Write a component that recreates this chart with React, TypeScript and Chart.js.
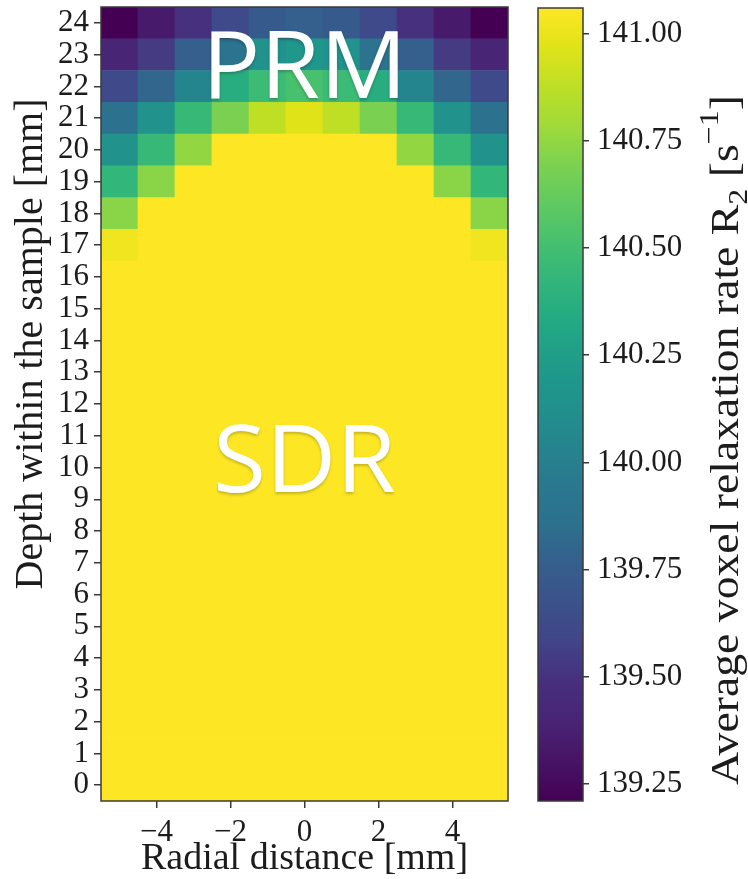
import React, { useEffect, useRef } from "react";
import { Chart, registerables } from "chart.js";

Chart.register(...registerables);

// Grid coordinates
const radialMm = [-5, -4, -3, -2, -1, 0, 1, 2, 3, 4, 5];
const depthMm = [0, 1, 2, 3, 4, 5, 6, 7, 8, 9, 10, 11, 12, 13, 14, 15, 16, 17, 18, 19, 20, 21, 22, 23, 24];

// Average voxel R2 [1/s], one row per depth (0 mm first, 24 mm last)
const r2Rows = [
  [141.06, 141.06, 141.06, 141.06, 141.06, 141.06, 141.06, 141.06, 141.06, 141.06, 141.06],
  [141.06, 141.06, 141.06, 141.06, 141.06, 141.06, 141.06, 141.06, 141.06, 141.06, 141.06],
  [141.06, 141.06, 141.06, 141.06, 141.06, 141.06, 141.06, 141.06, 141.06, 141.06, 141.06],
  [141.06, 141.06, 141.06, 141.06, 141.06, 141.06, 141.06, 141.06, 141.06, 141.06, 141.06],
  [141.06, 141.06, 141.06, 141.06, 141.06, 141.06, 141.06, 141.06, 141.06, 141.06, 141.06],
  [141.06, 141.06, 141.06, 141.06, 141.06, 141.06, 141.06, 141.06, 141.06, 141.06, 141.06],
  [141.06, 141.06, 141.06, 141.06, 141.06, 141.06, 141.06, 141.06, 141.06, 141.06, 141.06],
  [141.06, 141.06, 141.06, 141.06, 141.06, 141.06, 141.06, 141.06, 141.06, 141.06, 141.06],
  [141.06, 141.06, 141.06, 141.06, 141.06, 141.06, 141.06, 141.06, 141.06, 141.06, 141.06],
  [141.06, 141.06, 141.06, 141.06, 141.06, 141.06, 141.06, 141.06, 141.06, 141.06, 141.06],
  [141.06, 141.06, 141.06, 141.06, 141.06, 141.06, 141.06, 141.06, 141.06, 141.06, 141.06],
  [141.06, 141.06, 141.06, 141.06, 141.06, 141.06, 141.06, 141.06, 141.06, 141.06, 141.06],
  [141.06, 141.06, 141.06, 141.06, 141.06, 141.06, 141.06, 141.06, 141.06, 141.06, 141.06],
  [141.06, 141.06, 141.06, 141.06, 141.06, 141.06, 141.06, 141.06, 141.06, 141.06, 141.06],
  [141.06, 141.06, 141.06, 141.06, 141.06, 141.06, 141.06, 141.06, 141.06, 141.06, 141.06],
  [141.06, 141.06, 141.06, 141.06, 141.06, 141.06, 141.06, 141.06, 141.06, 141.06, 141.06],
  [141.06, 141.06, 141.06, 141.06, 141.06, 141.06, 141.06, 141.06, 141.06, 141.06, 141.06],
  [141.02, 141.06, 141.06, 141.06, 141.06, 141.06, 141.06, 141.06, 141.06, 141.06, 141.02],
  [140.73, 141.06, 141.06, 141.06, 141.06, 141.06, 141.06, 141.06, 141.06, 141.06, 140.73],
  [140.43, 140.73, 141.06, 141.06, 141.06, 141.06, 141.06, 141.06, 141.06, 140.73, 140.43],
  [140.14, 140.45, 140.75, 141.06, 141.06, 141.06, 141.06, 141.06, 140.75, 140.45, 140.14],
  [139.86, 140.14, 140.45, 140.69, 140.88, 140.97, 140.88, 140.69, 140.45, 140.14, 139.86],
  [139.62, 139.80, 140.04, 140.36, 140.47, 140.52, 140.47, 140.36, 140.04, 139.80, 139.62],
  [139.40, 139.54, 139.77, 139.89, 140.14, 140.19, 140.14, 139.89, 139.77, 139.54, 139.40],
  [139.21, 139.34, 139.49, 139.62, 139.73, 139.77, 139.73, 139.62, 139.49, 139.34, 139.21],
];

// Axis ticks
const radialTicks = [-4, -2, 0, 2, 4];
const depthTicks = depthMm;
const colorbarTicks = [139.25, 139.5, 139.75, 140.0, 140.25, 140.5, 140.75, 141.0];
const colorMin = 139.21;
const colorMax = 141.06;

// Region annotations (x, y = baseline position in data units)
const regionLabels = [
  { text: "PRM", x: 0, y: 21.63 },
  { text: "SDR", x: 0, y: 9.22 },
];

// viridis colormap stops
const VIRIDIS = [
  "#440154", "#471365", "#482475", "#472f7d", "#414487", "#3b528b", "#355f8d",
  "#2c718e", "#2a788e", "#25858e", "#21918c", "#1e9b8a", "#22a884", "#2fb47c",
  "#44bf70", "#5ec962", "#7ad151", "#9fda3a", "#bddf26", "#dfe318", "#fde725",
];
const VIRIDIS_POS = [0, 0.05, 0.1, 0.15, 0.2, 0.25, 0.3, 0.35, 0.4, 0.45, 0.5, 0.55, 0.6, 0.65, 0.7, 0.75, 0.8, 0.85, 0.9, 0.95, 1.0];

function hexToRgb(h: string) {
  const n = parseInt(h.slice(1), 16);
  return [(n >> 16) & 255, (n >> 8) & 255, n & 255];
}

function viridis(t: number) {
  const c = Math.min(1, Math.max(0, t));
  let i = 0;
  while (i < VIRIDIS_POS.length - 2 && c > VIRIDIS_POS[i + 1]) i++;
  const f = (c - VIRIDIS_POS[i]) / (VIRIDIS_POS[i + 1] - VIRIDIS_POS[i]);
  const a = hexToRgb(VIRIDIS[i]);
  const b = hexToRgb(VIRIDIS[i + 1]);
  const m = a.map((v, k) => Math.round(v + (b[k] - v) * f));
  return `rgb(${m[0]},${m[1]},${m[2]})`;
}

const colorOf = (v: number) => viridis((v - colorMin) / (colorMax - colorMin));

const SERIF = "'Liberation Serif', 'DejaVu Serif', serif";
const INK = "#1c1c1c";
const AXIS_LINE = "#3a3a3a";

const fmtRadial = (v: number) => (v < 0 ? "\u2212" + Math.abs(v) : String(v));

// Keep the plotting area at a fixed place: no extra room for edge labels
const fixSize = (dim: "width" | "height", size: number) => (s: any) => {
  s[dim] = size;
  s.paddingTop = 0;
  s.paddingBottom = 0;
  s.paddingLeft = 0;
  s.paddingRight = 0;
};

// Frame around the plotting area
const framePlugin = {
  id: "frame",
  afterDatasetsDraw(chart: any) {
    const { ctx, chartArea: a } = chart;
    ctx.save();
    ctx.strokeStyle = AXIS_LINE;
    ctx.lineWidth = 1.5;
    ctx.strokeRect(a.left, a.top, a.right - a.left, a.bottom - a.top);
    ctx.restore();
  },
};

// Heatmap extras: region labels and vertical axis title
const heatmapTextPlugin = {
  id: "heatmapText",
  afterDraw(chart: any) {
    const { ctx, scales } = chart;
    ctx.save();
    ctx.fillStyle = "#ffffff";
    ctx.font = "94px 'Open Sans', 'Noto Sans', sans-serif";
    ctx.textAlign = "center";
    ctx.textBaseline = "alphabetic";
    ctx.shadowColor = "rgba(0,0,0,0.22)";
    ctx.shadowBlur = 3;
    ctx.shadowOffsetY = 1.5;
    for (const l of regionLabels) {
      const px = scales.x.getPixelForValue(l.x);
      const py = scales.y.getPixelForValue(l.y);
      ctx.save();
      ctx.translate(px, py);
      ctx.scale(1.03, 1);
      ctx.fillText(l.text, 0, 0);
      ctx.restore();
    }
    ctx.shadowColor = "transparent";
    ctx.fillStyle = INK;
    ctx.font = `40px ${SERIF}`;
    ctx.translate(42, 344);
    ctx.rotate(-Math.PI / 2);
    ctx.fillText("Depth within the sample [mm]", 0, 0);
    ctx.restore();
  },
};

// Colorbar gradient and its label
const colorbarPlugin = {
  id: "colorbar",
  beforeDatasetsDraw(chart: any) {
    const { ctx, chartArea: a, scales } = chart;
    const y0 = scales.y.getPixelForValue(colorMin);
    const y1 = scales.y.getPixelForValue(colorMax);
    const g = ctx.createLinearGradient(0, y0, 0, y1);
    VIRIDIS.forEach((c, i) => g.addColorStop(VIRIDIS_POS[i], c));
    ctx.save();
    ctx.fillStyle = g;
    ctx.fillRect(a.left, y1, a.right - a.left, y0 - y1);
    ctx.restore();
  },
  afterDraw(chart: any) {
    const { ctx } = chart;
    const size = 40;
    const parts = [
      { t: "Average voxel relaxation rate R", s: 1, dy: 0 },
      { t: "2", s: 0.7, dy: 0.22 },
      { t: " [s", s: 1, dy: 0 },
      { t: "\u22121", s: 0.7, dy: -0.5 },
      { t: "]", s: 1, dy: 0 },
    ];
    ctx.save();
    let total = 0;
    for (const p of parts) {
      ctx.font = `${size * p.s}px ${SERIF}`;
      total += ctx.measureText(p.t).width;
    }
    const span = 690;
    ctx.translate(208, 785);
    ctx.rotate(-Math.PI / 2);
    ctx.scale(span / total, 1);
    ctx.fillStyle = INK;
    ctx.textAlign = "left";
    ctx.textBaseline = "alphabetic";
    let x = 0;
    for (const p of parts) {
      ctx.font = `${size * p.s}px ${SERIF}`;
      ctx.fillText(p.t, x, p.dy * size);
      x += ctx.measureText(p.t).width;
    }
    ctx.restore();
  },
};

export default function App() {
  const mainRef = useRef<HTMLCanvasElement | null>(null);
  const barRef = useRef<HTMLCanvasElement | null>(null);

  useEffect(() => {
    const tickFont = { family: SERIF, size: 31 };
    const tickGrid = {
      drawOnChartArea: false,
      drawTicks: true,
      tickLength: 7,
      color: AXIS_LINE,
      lineWidth: 1.5,
      offset: false,
    };

    const main = new Chart(mainRef.current as HTMLCanvasElement, {
      type: "bar",
      data: {
        datasets: depthMm.map((d, i) => ({
          label: `${d} mm`,
          data: radialMm.map((x) => ({ x, y: [d - 0.5, d + 0.5] })),
          backgroundColor: r2Rows[i].map(colorOf),
          borderWidth: 0,
          grouped: false,
          barPercentage: 1,
          categoryPercentage: 1,
        })),
      } as any,
      options: {
        animation: false,
        responsive: false,
        maintainAspectRatio: false,
        layout: { padding: { left: 0, top: 7, right: 22, bottom: 0 } },
        plugins: { legend: { display: false }, tooltip: { enabled: false } },
        scales: {
          x: {
            type: "linear",
            min: -5.5,
            max: 5.5,
            offset: false,
            afterBuildTicks: (s: any) => {
              s.ticks = radialTicks.map((v) => ({ value: v }));
            },
            afterFit: fixSize("height", 78),
            grid: tickGrid,
            border: { display: false },
            ticks: {
              font: tickFont,
              color: INK,
              padding: 6,
              maxRotation: 0,
              autoSkip: false,
              callback: (v: any) => fmtRadial(Number(v)),
            },
            title: {
              display: true,
              text: "Radial distance [mm]",
              color: INK,
              font: { family: SERIF, size: 38, lineHeight: 1 },
              padding: { top: 0, bottom: 1 },
            },
          },
          y: {
            type: "linear",
            min: -0.5,
            max: 24.5,
            afterBuildTicks: (s: any) => {
              s.ticks = depthTicks.map((v) => ({ value: v }));
            },
            afterFit: fixSize("width", 101),
            grid: tickGrid,
            border: { display: false },
            ticks: {
              font: tickFont,
              color: INK,
              padding: 5,
              autoSkip: false,
              callback: (v: any) => String(v),
            },
          },
        },
      } as any,
      plugins: [framePlugin, heatmapTextPlugin],
    });

    const bar = new Chart(barRef.current as HTMLCanvasElement, {
      type: "line",
      data: { datasets: [] },
      options: {
        animation: false,
        responsive: false,
        maintainAspectRatio: false,
        layout: { padding: { left: 8, top: 8, right: 0, bottom: 78 } },
        plugins: { legend: { display: false }, tooltip: { enabled: false } },
        scales: {
          x: { type: "linear", display: false, min: 0, max: 1 },
          y: {
            type: "linear",
            position: "right",
            min: colorMin,
            max: colorMax,
            afterBuildTicks: (s: any) => {
              s.ticks = colorbarTicks.map((v) => ({ value: v }));
            },
            afterFit: fixSize("width", 165),
            grid: { ...tickGrid, tickLength: 6 },
            border: { display: false },
            ticks: {
              font: tickFont,
              color: INK,
              padding: 8,
              autoSkip: false,
              callback: (v: any) => Number(v).toFixed(2),
            },
          },
        },
      } as any,
      plugins: [colorbarPlugin, framePlugin],
    });

    return () => {
      main.destroy();
      bar.destroy();
    };
  }, []);

  return (
    <div style={{ position: "fixed", left: 0, top: 0, width: 748, height: 879, background: "#ffffff" }}>
      <canvas
        ref={mainRef}
        width={530}
        height={879}
        style={{ position: "absolute", left: 0, top: 0, width: 530, height: 879 }}
      />
      <canvas
        ref={barRef}
        width={218}
        height={879}
        style={{ position: "absolute", left: 530, top: 0, width: 218, height: 879 }}
      />
    </div>
  );
}
